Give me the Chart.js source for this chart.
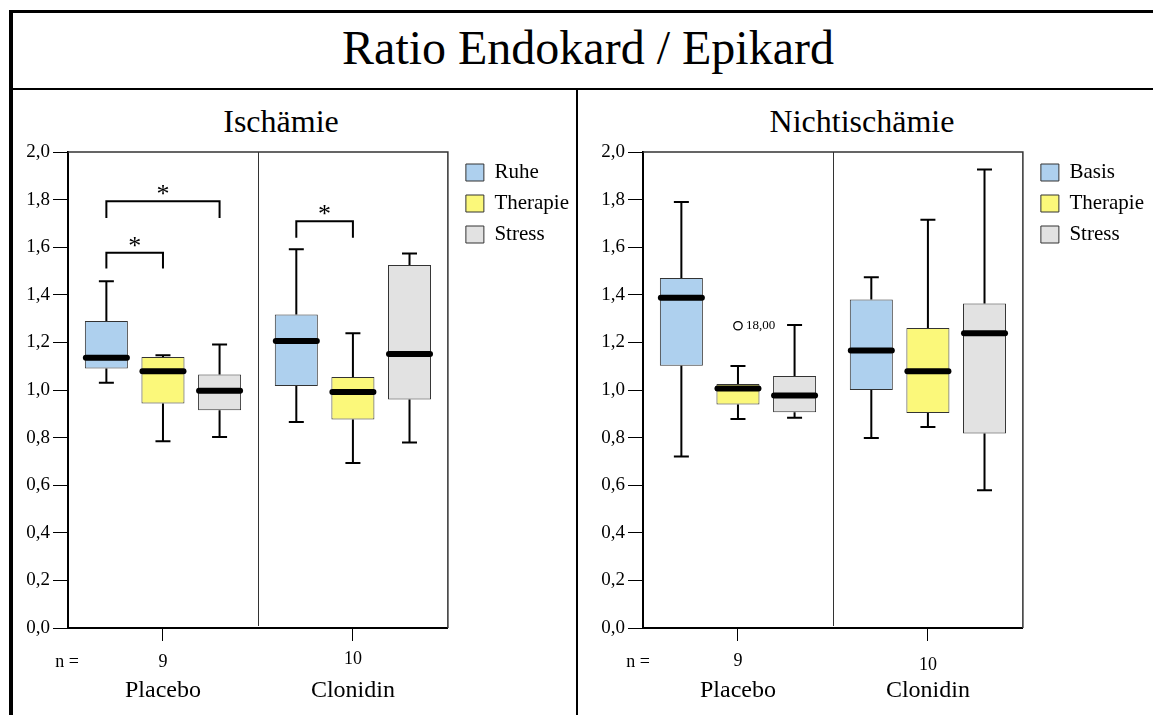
<!DOCTYPE html>
<html lang="de">
<head>
<meta charset="utf-8">
<title>Ratio Endokard / Epikard</title>
<script src="https://cdn.jsdelivr.net/npm/chart.js@4.4.1/dist/chart.umd.min.js"></script>
<style>
  html, body { margin: 0; padding: 0; background: #fff; }
  body { width: 1153px; height: 715px; position: relative; overflow: hidden;
         font-family: "Liberation Serif", "Times New Roman", serif; color: #000; }
  .line { position: absolute; background: #000; z-index: 2; }
  .txt { position: absolute; white-space: nowrap; line-height: 1; transform: translateX(-50%); }
  canvas { position: absolute; top: 91px; }
</style>
</head>
<body>
<div class="line" style="left:9px;top:10px;width:1144px;height:3px"></div>
<div class="line" style="left:9px;top:10px;width:4px;height:705px"></div>
<div class="line" style="left:13px;top:88px;width:1140px;height:2px"></div>
<div class="line" style="left:576px;top:90px;width:2px;height:625px"></div>
<div class="txt" style="left:588px;top:24px;font-size:48px">Ratio Endokard / Epikard</div>
<div class="txt" style="left:281px;top:105px;font-size:32px">Ischämie</div>
<div class="txt" style="left:862px;top:105px;font-size:32px">Nichtischämie</div>
<canvas id="ischChart" width="566" height="624" style="left:13px"></canvas>
<canvas id="nischChart" width="566" height="624" style="left:588px"></canvas>

<script>
// groups on the x axis and group sizes
const categories = ["Placebo", "Clonidin"];
const nCounts = ["9", "10"];
const yTickLabels = ["0,0", "0,2", "0,4", "0,6", "0,8", "1,0", "1,2", "1,4", "1,6", "1,8", "2,0"];

// Ischämie: one row per series, one column per group
const ischSeries = ["Ruhe", "Therapie", "Stress"];
const ischLow    = [[1.03, 0.866], [0.785, 0.693], [0.803, 0.779]];
const ischQ1     = [[1.09, 1.017], [0.943, 0.876], [0.915, 0.960]];
const ischMedian = [[1.135, 1.206], [1.079, 0.992], [0.997, 1.151]];
const ischQ3     = [[1.29, 1.317], [1.139, 1.055], [1.065, 1.525]];
const ischHigh   = [[1.457, 1.591], [1.146, 1.238], [1.191, 1.574]];

// significance brackets (Ischämie only)
const bracketGroup = [0, 0, 1];
const bracketFrom  = [0, 0, 0];
const bracketTo    = [2, 1, 1];
const bracketTop   = [1.793, 1.577, 1.709];
const bracketFoot  = [1.723, 1.51, 1.64];

// Nichtischämie
const nischSeries = ["Basis", "Therapie", "Stress"];
const nischLow    = [[0.721, 0.798], [0.878, 0.845], [0.883, 0.579]];
const nischQ1     = [[1.102, 1.0], [0.939, 0.903], [0.907, 0.817]];
const nischMedian = [[1.388, 1.166], [1.006, 1.079], [0.977, 1.238]];
const nischQ3     = [[1.471, 1.38], [1.025, 1.261], [1.059, 1.363]];
const nischHigh   = [[1.79, 1.474], [1.101, 1.715], [1.273, 1.926]];

// outliers (Nichtischämie)
const outlierGroup  = [0];
const outlierSeries = [1];
const outlierValue  = [1.27];
const outlierLabel  = ["18,00"];

const boxColors = ["#aed0ee", "#fbf87a", "#e2e2e2"];
const serif = "Liberation Serif";

function boxPanel(id, series, low, q1, med, q3, high, extra) {
  const datasets = series.map((name, s) => ({
    label: name,
    data: categories.map((c, g) => [q1[s][g], q3[s][g]]),
    backgroundColor: boxColors[s],
    borderColor: "#333",
    borderWidth: 1,
    borderSkipped: false,
    categoryPercentage: 0.894,
    barPercentage: 0.76
  }));

  const boxExtras = {
    id: "boxExtras",
    beforeDatasetsDraw(chart) {
      const ctx = chart.ctx, a = chart.chartArea;
      const xMid = chart.scales.x.getPixelForValue(0.5);
      ctx.save();
      ctx.strokeStyle = "#333";
      ctx.lineWidth = 1.5;
      ctx.beginPath();
      ctx.moveTo(a.left, a.top); ctx.lineTo(a.right, a.top); ctx.lineTo(a.right, a.bottom);
      ctx.stroke();
      ctx.lineWidth = 1;
      ctx.beginPath();
      ctx.moveTo(Math.round(xMid) + 0.5, a.top); ctx.lineTo(Math.round(xMid) + 0.5, a.bottom - 2);
      ctx.stroke();
      ctx.restore();
    },
    afterDatasetsDraw(chart) {
      const ctx = chart.ctx, y = chart.scales.y;
      const cap = 7.5;
      ctx.save();
      ctx.strokeStyle = "#000";
      series.forEach((name, s) => {
        chart.getDatasetMeta(s).data.forEach((bar, g) => {
          const x = bar.x, half = bar.width / 2;
          const yLo = y.getPixelForValue(low[s][g]);
          const yQ1 = y.getPixelForValue(q1[s][g]);
          const yMed = y.getPixelForValue(med[s][g]);
          const yQ3 = y.getPixelForValue(q3[s][g]);
          const yHi = y.getPixelForValue(high[s][g]);
          ctx.lineWidth = 2;
          ctx.lineCap = "butt";
          ctx.beginPath();
          ctx.moveTo(x, yQ3); ctx.lineTo(x, yHi);
          ctx.moveTo(x - cap, yHi); ctx.lineTo(x + cap, yHi);
          ctx.moveTo(x, yQ1); ctx.lineTo(x, yLo);
          ctx.moveTo(x - cap, yLo); ctx.lineTo(x + cap, yLo);
          ctx.stroke();
          ctx.lineWidth = 6;
          ctx.lineCap = "round";
          ctx.beginPath();
          ctx.moveTo(x - half + 1, yMed); ctx.lineTo(x + half - 1, yMed);
          ctx.stroke();
        });
      });

      // outliers
      (extra.outGroup || []).forEach((g, k) => {
        const bar = chart.getDatasetMeta(extra.outSeries[k]).data[g];
        const py = y.getPixelForValue(extra.outValue[k]);
        ctx.lineWidth = 1.3;
        ctx.lineCap = "butt";
        ctx.fillStyle = "#fff";
        ctx.beginPath();
        ctx.arc(bar.x, py, 4.2, 0, Math.PI * 2);
        ctx.fill(); ctx.stroke();
        ctx.fillStyle = "#000";
        ctx.font = "13px '" + serif + "'";
        ctx.textAlign = "left";
        ctx.textBaseline = "middle";
        ctx.fillText(extra.outLabel[k], bar.x + 8, py);
      });

      // significance brackets
      (extra.brGroup || []).forEach((g, k) => {
        const x1 = chart.getDatasetMeta(extra.brFrom[k]).data[g].x;
        const x2 = chart.getDatasetMeta(extra.brTo[k]).data[g].x;
        const yt = y.getPixelForValue(extra.brTop[k]);
        const yf = y.getPixelForValue(extra.brFoot[k]);
        ctx.lineWidth = 2;
        ctx.lineCap = "butt";
        ctx.lineJoin = "miter";
        ctx.beginPath();
        ctx.moveTo(x1, yf); ctx.lineTo(x1, yt); ctx.lineTo(x2, yt); ctx.lineTo(x2, yf);
        ctx.stroke();
        ctx.fillStyle = "#000";
        ctx.font = "26px '" + serif + "'";
        ctx.textAlign = "center";
        ctx.textBaseline = "alphabetic";
        ctx.fillText("*", (x1 + x2) / 2, yt + 1);
      });
      ctx.restore();
    },
    afterDraw(chart) {
      const ctx = chart.ctx, a = chart.chartArea, xs = chart.scales.x;
      ctx.save();
      ctx.fillStyle = "#000";
      ctx.font = "18px '" + serif + "'";
      ctx.textAlign = "center";
      ctx.textBaseline = "middle";
      ctx.fillText("n =", a.left - extra.nShift, a.bottom + 34);
      categories.forEach((c, g) => {
        ctx.fillText(nCounts[g], xs.getPixelForValue(g), a.bottom + extra.nOffset[g]);
      });
      ctx.restore();
    }
  };

  return new Chart(document.getElementById(id), {
    type: "bar",
    data: { labels: categories, datasets: datasets },
    options: {
      responsive: false,
      animation: false,
      layout: { padding: { top: 61, right: 0, left: 0, bottom: 0 } },
      plugins: {
        title: { display: false },
        tooltip: { enabled: false },
        legend: {
          position: "right",
          align: "start",
          maxWidth: 140,
          onClick: null,
          labels: {
            font: { family: serif, size: 21 },
            color: "#000",
            boxWidth: 18,
            boxHeight: 17,
            padding: 10
          }
        }
      },
      scales: {
        x: {
          grid: { display: true, drawOnChartArea: false, offset: false, tickLength: 13, color: "#000" },
          border: { display: true, color: "#000", width: 2 },
          ticks: { font: { family: serif, size: 24 }, color: "#000", padding: 35, maxRotation: 0 },
          afterFit: s => { s.height = 87; }
        },
        y: {
          min: 0,
          max: 2,
          grid: { display: true, drawOnChartArea: false, tickLength: 15, color: "#000" },
          border: { display: true, color: "#000", width: 2 },
          ticks: {
            stepSize: 0.2,
            font: { family: serif, size: 19 },
            color: "#000",
            padding: 3,
            callback: v => yTickLabels[Math.round(v / 0.2)]
          },
          afterFit: s => { s.width = 55; }
        },
        gap: {
          type: "linear",
          position: "right",
          display: true,
          grid: { display: false },
          ticks: { display: false },
          border: { display: false },
          afterFit: s => { s.width = 8; }
        }
      }
    },
    plugins: [boxExtras]
  });
}

boxPanel("ischChart", ischSeries, ischLow, ischQ1, ischMedian, ischQ3, ischHigh, {
  brGroup: bracketGroup, brFrom: bracketFrom, brTo: bracketTo, brTop: bracketTop, brFoot: bracketFoot,
  nOffset: [34, 31], nShift: 1
});

boxPanel("nischChart", nischSeries, nischLow, nischQ1, nischMedian, nischQ3, nischHigh, {
  outGroup: outlierGroup, outSeries: outlierSeries, outValue: outlierValue, outLabel: outlierLabel,
  nOffset: [33, 37], nShift: 5
});
</script>
</body>
</html>
